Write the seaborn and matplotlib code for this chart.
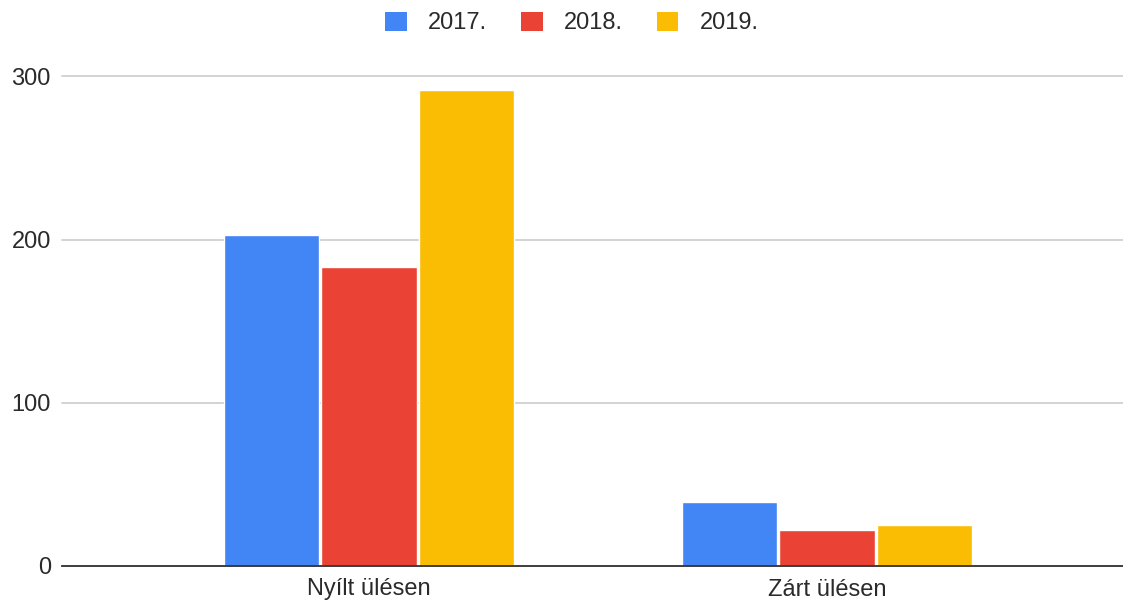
import matplotlib
matplotlib.use("Agg")
import matplotlib.pyplot as plt
import seaborn as sns
import pandas as pd
from matplotlib.patches import Patch

categories = ["Nyílt ülésen", "Zárt ülésen"]
years = ["2017.", "2018.", "2019."]
values_2017 = [203, 39]
values_2018 = [183, 22]
values_2019 = [292, 25]
colors = ["#4285F4", "#EA4335", "#FBBC04"]

df = pd.DataFrame({
    "kategoria": categories * 3,
    "ev": [years[0]] * 2 + [years[1]] * 2 + [years[2]] * 2,
    "ertek": values_2017 + values_2018 + values_2019,
})

sns.set_style("white")
plt.rcParams["font.family"] = ["Liberation Sans", "DejaVu Sans"]

fig = plt.figure(figsize=(11.23, 6.0), dpi=100)
ax = fig.add_axes([62 / 1123, 34 / 600, (1123 - 62) / 1123, (566 - 76.5) / 600])

sns.barplot(data=df, x="kategoria", y="ertek", hue="ev", palette=colors,
            width=0.638, gap=0.02, ax=ax, saturation=1, legend=False)

ax.set_ylim(0, 300)
ax.set_xlim(-0.670, 1.646)
ax.set_yticks([0, 100, 200, 300])
ax.set_xlabel("")
ax.set_ylabel("")
ax.yaxis.grid(True, color="#cccccc", linewidth=1.2)
for gl in ax.get_ygridlines():
    gl.set_clip_on(False)
ax.set_axisbelow(True)
for s in ["top", "right", "left"]:
    ax.spines[s].set_visible(False)
ax.spines["bottom"].set_color("#333333")
ax.spines["bottom"].set_linewidth(1.3)
ax.spines["bottom"].set_zorder(5)
ax.tick_params(axis="both", length=0, labelsize=17, labelcolor="#2a2a2a")
ax.tick_params(axis="y", pad=8)
ax.tick_params(axis="x", pad=9)

handles = [Patch(facecolor=c, edgecolor="none") for c in colors]
fig.legend(handles, years, loc="center", bbox_to_anchor=(572 / 1123, 1 - 23 / 600),
           ncol=3, frameon=False, fontsize=17, handlelength=0.9, handleheight=0.9,
           handletextpad=0.9, columnspacing=1.45, labelcolor="#2a2a2a")

fig.savefig("out.png", dpi=100)
